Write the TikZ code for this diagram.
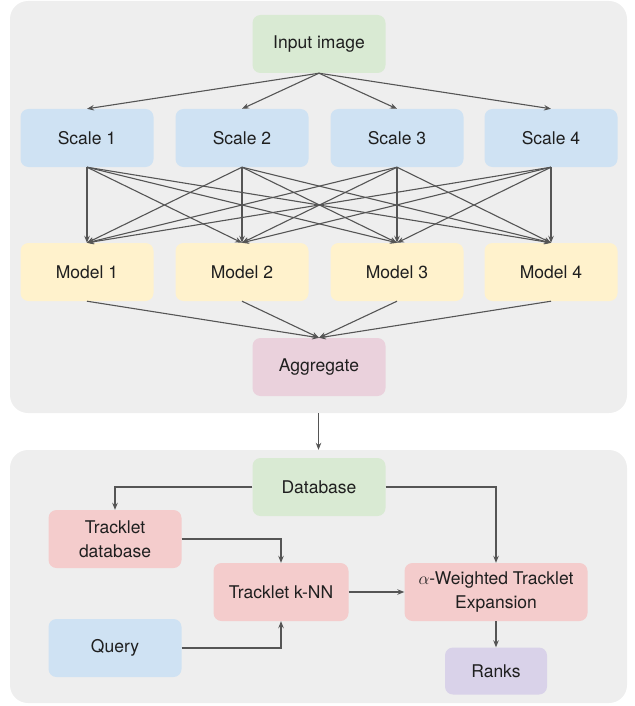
\documentclass[tikz,border=0pt]{standalone}
\usepackage{fontspec}
\setmainfont{TeX Gyre Heros}
\usetikzlibrary{arrows.meta}
\definecolor{panelbg}{HTML}{EEEEEE}
\definecolor{cgreen}{HTML}{D9EAD3}
\definecolor{cblue}{HTML}{CFE2F3}
\definecolor{cyellow}{HTML}{FFF2CC}
\definecolor{cpink}{HTML}{EAD1DC}
\definecolor{cred}{HTML}{F4CCCC}
\definecolor{cpurple}{HTML}{D9D2E9}
\definecolor{arrowc}{HTML}{555555}
\begin{document}
\begin{tikzpicture}[x=1pt,y=-1pt,
  panel/.style={rectangle,fill=panelbg,rounded corners=18pt,inner sep=0pt},
  box/.style={rectangle,rounded corners=8pt,inner sep=0pt,minimum width=133pt,minimum height=58pt,
     font=\fontsize{17.5}{24}\selectfont,align=center,text=black!88},
  conn/.style={draw=arrowc,line width=1.1pt,-{Stealth[length=7pt,width=5.5pt]}}]
\useasboundingbox (0,0) rectangle (634,706);
\node[panel,minimum width=617pt,minimum height=412pt] (toppanel) at (318.5,207) {};
\node[panel,minimum width=617pt,minimum height=253pt] (botpanel) at (318.5,576.5) {};
% top panel
\node[box,fill=cgreen] (input) at (319,44) {Input image};
\foreach \i/\x in {1/87,2/242,3/397,4/551}{
  \node[box,fill=cblue] (s\i) at (\x,138) {Scale \i};
  \node[box,fill=cyellow] (m\i) at (\x,272) {Model \i};
}
\node[box,fill=cpink] (agg) at (319,367) {Aggregate};
\foreach \i in {1,...,4}{
  \draw[conn] (input.south) -- (s\i.north);
  \draw[conn] (m\i.south) -- (agg.north);
  \foreach \j in {1,...,4}{
    \draw[conn] (s\i.south) -- (m\j.north);
  }
}
\draw[conn] (toppanel.south) -- (botpanel.north);
% bottom panel
\node[box,fill=cgreen] (db) at (319,487) {Database};
\node[box,fill=cred] (tdb) at (115,539) {Tracklet\\database};
\node[box,fill=cred,minimum width=135pt] (knn) at (281,592) {Tracklet k-NN};
\node[box,fill=cred,minimum width=183pt] (alpha) at (496,592) {$\alpha$-Weighted Tracklet\\Expansion};
\node[box,fill=cblue] (query) at (115,648) {Query};
\node[box,fill=cpurple,minimum width=102pt,minimum height=47pt] (ranks) at (496,671) {Ranks};
\draw[conn] (db.west) -| (tdb.north);
\draw[conn] (db.east) -| (alpha.north);
\draw[conn] (tdb.east) -| (knn.north);
\draw[conn] (query.east) -| (knn.south);
\draw[conn] (knn.east) -- (alpha.west);
\draw[conn] (alpha.south) -- (ranks.north);
\end{tikzpicture}
\end{document}
